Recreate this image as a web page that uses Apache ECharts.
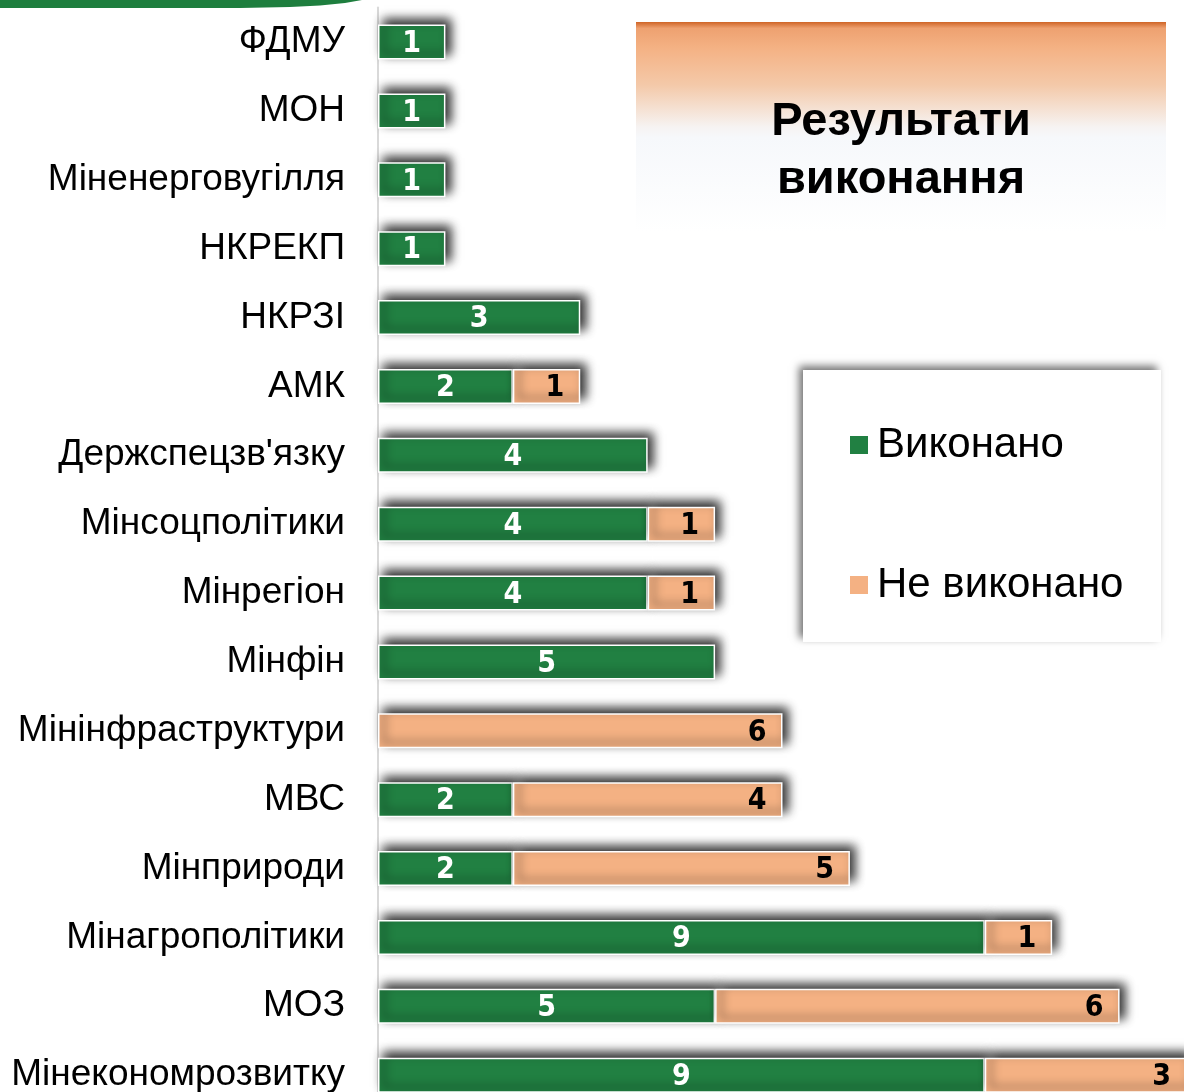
<!DOCTYPE html>
<html>
<head>
<meta charset="utf-8">
<script src="https://cdn.jsdelivr.net/npm/echarts@6/dist/echarts.min.js"></script>
<style>
  html, body { margin: 0; padding: 0; background: #fff; }
  #chart { width: 1184px; height: 1092px; }
</style>
</head>
<body>
<div id="chart"></div>
<script>
// відомства (зверху вниз)
const categories = [
  'ФДМУ', 'МОН', 'Міненерговугілля', 'НКРЕКП', 'НКРЗІ', 'АМК',
  "Держспецзв'язку", 'Мінсоцполітики', 'Мінрегіон', 'Мінфін',
  'Мінінфраструктури', 'МВС', 'Мінприроди', 'Мінагрополітики',
  'МОЗ', 'Мінекономрозвитку'
]
const doneValues = [1, 1, 1, 1, 3, 2, 4, 4, 4, 5, 0, 2, 2, 9, 5, 9]
const notDoneValues = [0, 0, 0, 0, 0, 1, 0, 1, 1, 0, 6, 4, 5, 1, 6, 3]
const seriesNames = ['Виконано', 'Не виконано']
const titleLines = ['Результати', 'виконання']

const GREEN = '#218042'
const ORANGE = '#f4b183'
const FONT = '"Liberation Sans", Arial, sans-serif'
const NARROW = '"Liberation Sans Narrow", "Arial Narrow", "DejaVu Sans Condensed", sans-serif'

const chart = echarts.init(document.getElementById('chart'), null, { renderer: 'canvas' })

const barShadow = {
  shadowBlur: 10,
  shadowOffsetX: 5,
  shadowOffsetY: -5,
  shadowColor: 'rgba(0,0,0,0.85)'
}

const option = {
  backgroundColor: '#fff',
  animation: false,
  grid: {
    left: 378, top: 7.6, width: 809, height: 1102,
    containLabel: false,
    outerBoundsMode: 'none' // сітка виходить за край полотна
  },
  xAxis: { type: 'value', min: 0, max: 12, show: false },
  yAxis: {
    type: 'category',
    data: categories,
    inverse: true,
    axisLine: { show: true, lineStyle: { color: '#d9d9d9', width: 2 } },
    axisTick: { show: false },
    axisLabel: { fontSize: 37, color: '#000', fontFamily: FONT, margin: 33 }
  },
  legend: {
    orient: 'vertical',
    left: 845,
    top: 419,
    itemGap: 98,
    icon: 'rect',
    itemWidth: 18,
    itemHeight: 18,
    itemStyle: { shadowBlur: 0, borderWidth: 0 },
    textStyle: { fontSize: 42, color: '#000', fontFamily: FONT, padding: [0, 0, 0, 4] },
    data: seriesNames
  },
  series: [
    {
      name: seriesNames[0],
      type: 'bar',
      stack: 'total',
      barWidth: 35,
      data: doneValues.map(v => (v === 0 ? null : v)),
      itemStyle: Object.assign({ color: GREEN, borderColor: '#fff', borderWidth: 1.5 }, barShadow),
      label: {
        show: true,
        position: 'inside',
        offset: [0, 2],
        color: '#fff',
        fontWeight: 'bold',
        fontSize: 30,
        fontFamily: NARROW
      }
    },
    {
      name: seriesNames[1],
      type: 'bar',
      stack: 'total',
      barWidth: 35,
      data: notDoneValues.map(v => (v === 0 ? null : v)),
      itemStyle: Object.assign({ color: ORANGE, borderColor: '#fff', borderWidth: 1.5 }, barShadow),
      label: {
        show: true,
        position: 'insideRight',
        distance: 16,
        offset: [0, 2],
        color: '#000',
        fontWeight: 'bold',
        fontSize: 30,
        fontFamily: NARROW
      }
    }
  ],
  graphic: [
    // зелена смуга зверху зліва
    {
      type: 'polygon',
      shape: {
        points: [[0, 0], [0, 8], [240, 8], [290, 7], [320, 5.5], [345, 3], [362, 0]]
      },
      style: { fill: '#1e7e3e' }
    },
    // блок заголовка
    {
      type: 'rect',
      shape: { x: 636, y: 22, width: 530, height: 210 },
      style: {
        fill: {
          type: 'linear', x: 0, y: 0, x2: 0, y2: 1,
          colorStops: [
            { offset: 0, color: '#cf6527' },
            { offset: 0.03, color: '#eea170' },
            { offset: 0.12, color: '#f4b183' },
            { offset: 0.3, color: '#f4c9a9' },
            { offset: 0.5, color: '#f6f3f2' },
            { offset: 0.55, color: '#f6f8fb' },
            { offset: 1, color: '#ffffff' }
          ]
        }
      }
    },
    {
      type: 'text',
      x: 901,
      y: 122,
      style: {
        text: titleLines[0],
        fontSize: 47,
        fontWeight: 'bold',
        fontFamily: FONT,
        fill: '#000',
        align: 'center',
        verticalAlign: 'middle'
      }
    },
    {
      type: 'text',
      x: 901,
      y: 180,
      style: {
        text: titleLines[1],
        fontSize: 47,
        fontWeight: 'bold',
        fontFamily: FONT,
        fill: '#000',
        align: 'center',
        verticalAlign: 'middle'
      }
    },
    // рамка легенди
    {
      type: 'rect',
      z: -1,
      shape: { x: 803, y: 370, width: 358, height: 272 },
      style: {
        fill: '#fff',
        shadowBlur: 8,
        shadowOffsetX: -4,
        shadowOffsetY: -4,
        shadowColor: 'rgba(0,0,0,0.55)'
      }
    }
  ]
}

chart.setOption(option)
</script>
</body>
</html>
